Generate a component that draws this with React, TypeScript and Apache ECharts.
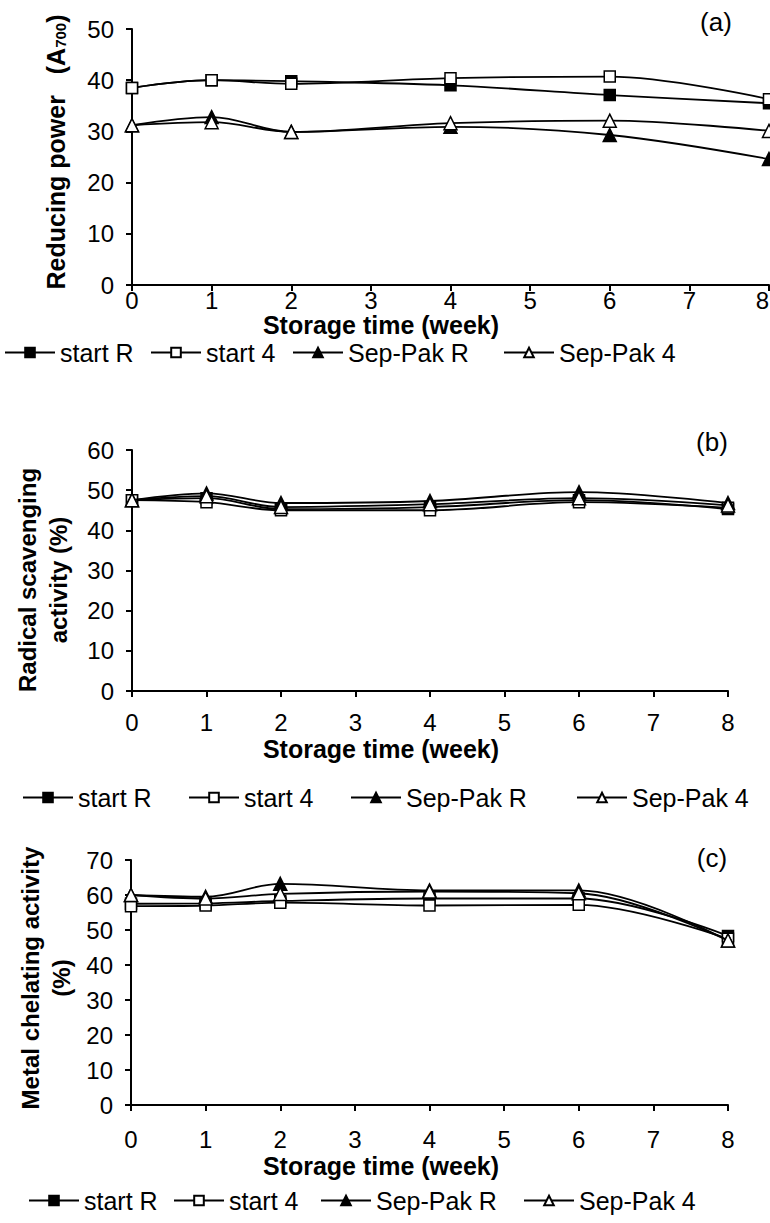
import React, { useEffect, useRef } from "react";
import * as echarts from "echarts";

// Storage weeks at which samples were measured
const weeks = [0, 1, 2, 4, 6, 8];
const seriesNames = ["start R", "start 4", "Sep-Pak R", "Sep-Pak 4"];
const panelLetters = ["(a)", "(b)", "(c)"];
const xTitle = "Storage time (week)";

// (a) Reducing power (A700)
const reducingStartR = [38.5, 40.0, 39.8, 39.0, 37.1, 35.5];
const reducingStart4 = [38.5, 40.0, 39.3, 40.4, 40.7, 36.3];
const reducingSepPakR = [31.2, 32.8, 29.9, 30.9, 29.3, 24.6];
const reducingSepPak4 = [31.2, 31.8, 29.9, 31.6, 32.1, 30.1];

// (b) Radical scavenging activity (%)
const scavStartR = [47.5, 48.0, 45.3, 45.8, 47.5, 45.3];
const scavStart4 = [47.5, 47.0, 45.0, 45.0, 47.0, 45.6];
const scavSepPakR = [47.5, 49.2, 46.8, 47.3, 49.5, 46.8];
const scavSepPak4 = [47.5, 48.5, 45.8, 46.5, 48.0, 46.2];

// (c) Metal chelating activity (%)
const chelStartR = [57.5, 57.6, 58.3, 59.0, 59.0, 48.3];
const chelStart4 = [56.8, 57.0, 57.8, 57.0, 57.2, 47.5];
const chelSepPakR = [60.0, 59.5, 63.2, 61.3, 61.3, 47.0];
const chelSepPak4 = [60.0, 59.0, 60.3, 61.0, 60.5, 47.0];

const FONT = "'Liberation Sans', Arial, sans-serif";

const markerStyles = [
  { symbol: "rect", symbolSize: 11, fill: "#000" },
  { symbol: "rect", symbolSize: 11, fill: "#fff" },
  { symbol: "triangle", symbolSize: 13, fill: "#000" },
  { symbol: "triangle", symbolSize: 13, fill: "#fff" },
];

const panels = [
  {
    grid: { left: 132, top: 29, width: 637, height: 256 },
    yMax: 50,
    labelMargin: 3,
    alignMax: "right",
    data: [reducingStartR, reducingStart4, reducingSepPakR, reducingSepPak4],
  },
  {
    grid: { left: 132, top: 450, width: 596, height: 241 },
    yMax: 60,
    labelMargin: 19,
    alignMax: undefined,
    data: [scavStartR, scavStart4, scavSepPakR, scavSepPak4],
  },
  {
    grid: { left: 131, top: 860, width: 597, height: 245 },
    yMax: 70,
    labelMargin: 22,
    alignMax: undefined,
    data: [chelStartR, chelStart4, chelSepPakR, chelSepPak4],
  },
];

// legend entry placement per panel: icon left edges and vertical centre
const legendLefts = [
  [4, 150, 292, 503],
  [22, 188, 350, 576],
  [28, 173, 320, 523],
];
const legendCentres = [355, 800, 1203];

export default function App() {
  const ref = useRef<HTMLDivElement>(null);

  useEffect(() => {
    if (!ref.current) return;
    const chart = echarts.init(ref.current, undefined, { renderer: "svg" });

    const axisLine = { show: true, lineStyle: { color: "#000", width: 2 } };
    const axisTick = { show: true, length: 6, lineStyle: { color: "#000", width: 2 } };

    const grids = panels.map((p) => ({
      ...p.grid,
      containLabel: false,
      outerBoundsMode: "none",
    }));
    const xAxes = panels.map((p, i) => ({
      type: "value",
      gridIndex: i,
      min: 0,
      max: 8,
      interval: 1,
      axisLine,
      axisTick,
      splitLine: { show: false },
      axisLabel: {
        color: "#000",
        fontSize: 24,
        fontFamily: FONT,
        margin: p.labelMargin,
        alignMaxLabel: p.alignMax,
      },
    }));
    const yAxes = panels.map((p, i) => ({
      type: "value",
      gridIndex: i,
      min: 0,
      max: p.yMax,
      interval: 10,
      axisLine,
      axisTick,
      splitLine: { show: false },
      axisLabel: { color: "#000", fontSize: 24, fontFamily: FONT, margin: 18 },
    }));

    const series: any[] = [];
    panels.forEach((p, pi) => {
      p.data.forEach((vals, si) => {
        const m = markerStyles[si];
        series.push({
          type: "line",
          name: seriesNames[si],
          xAxisIndex: pi,
          yAxisIndex: pi,
          data: weeks.map((w, k) => [w, vals[k]]),
          smooth: 0.35,
          symbol: m.symbol,
          symbolSize: m.symbolSize,
          showAllSymbol: true,
          clip: false,
          lineStyle: { color: "#000", width: 1.8 },
          itemStyle: { color: m.fill, borderColor: "#000", borderWidth: 1.5, opacity: 1 },
          z: 2 + si,
        });
      });
    });

    const legends: any[] = [];
    legendLefts.forEach((lefts, pi) => {
      lefts.forEach((left, si) => {
        legends.push({
          show: true,
          data: [seriesNames[si]],
          left,
          top: legendCentres[pi] - 15,
          padding: 0,
          itemWidth: 50,
          itemHeight: 12,
          selectedMode: false,
          textStyle: { color: "#000", fontSize: 25, fontFamily: FONT },
        });
      });
    });

    const titleCentresY = [325, 749, 1166];
    const letterPos = [
      [716, 22],
      [712, 442],
      [712, 858],
    ];

    const centred = {
      fill: "#000",
      fontFamily: FONT,
      align: "center",
      verticalAlign: "middle",
      textAlign: "center",
      textVerticalAlign: "middle",
    };

    const graphics: any[] = [];
    titleCentresY.forEach((y) => {
      graphics.push({
        type: "text",
        x: 381,
        y,
        style: { ...centred, text: xTitle, fontSize: 25, fontWeight: "bold" },
      });
    });
    letterPos.forEach(([x, y], i) => {
      graphics.push({
        type: "text",
        x,
        y,
        style: { ...centred, text: panelLetters[i], fontSize: 26 },
      });
    });

    const yNameBase = { ...centred, fontWeight: "bold", lineHeight: 31 };
    graphics.push({
      type: "text",
      x: 56,
      y: 152,
      rotation: Math.PI / 2,
      style: {
        ...yNameBase,
        fontSize: 25,
        text: "Reducing power   (A{sub|700})",
        rich: {
          sub: {
            fontSize: 15,
            fontWeight: "bold",
            fontFamily: FONT,
            fill: "#000",
            padding: [9, 0, 0, 0],
          },
        },
      },
    });
    graphics.push({
      type: "text",
      x: 43,
      y: 580,
      rotation: Math.PI / 2,
      style: { ...yNameBase, fontSize: 24, text: "Radical scavenging\nactivity (%)" },
    });
    graphics.push({
      type: "text",
      x: 46,
      y: 978,
      rotation: Math.PI / 2,
      style: { ...yNameBase, fontSize: 24, text: "Metal chelating activity\n(%)" },
    });

    chart.setOption({
      animation: false,
      backgroundColor: "#fff",
      grid: grids,
      xAxis: xAxes,
      yAxis: yAxes,
      legend: legends,
      series,
      graphic: graphics,
    });

    return () => chart.dispose();
  }, []);

  return (
    <div
      ref={ref}
      style={{ position: "absolute", left: 0, top: 0, width: 770, height: 1223 }}
    />
  );
}
